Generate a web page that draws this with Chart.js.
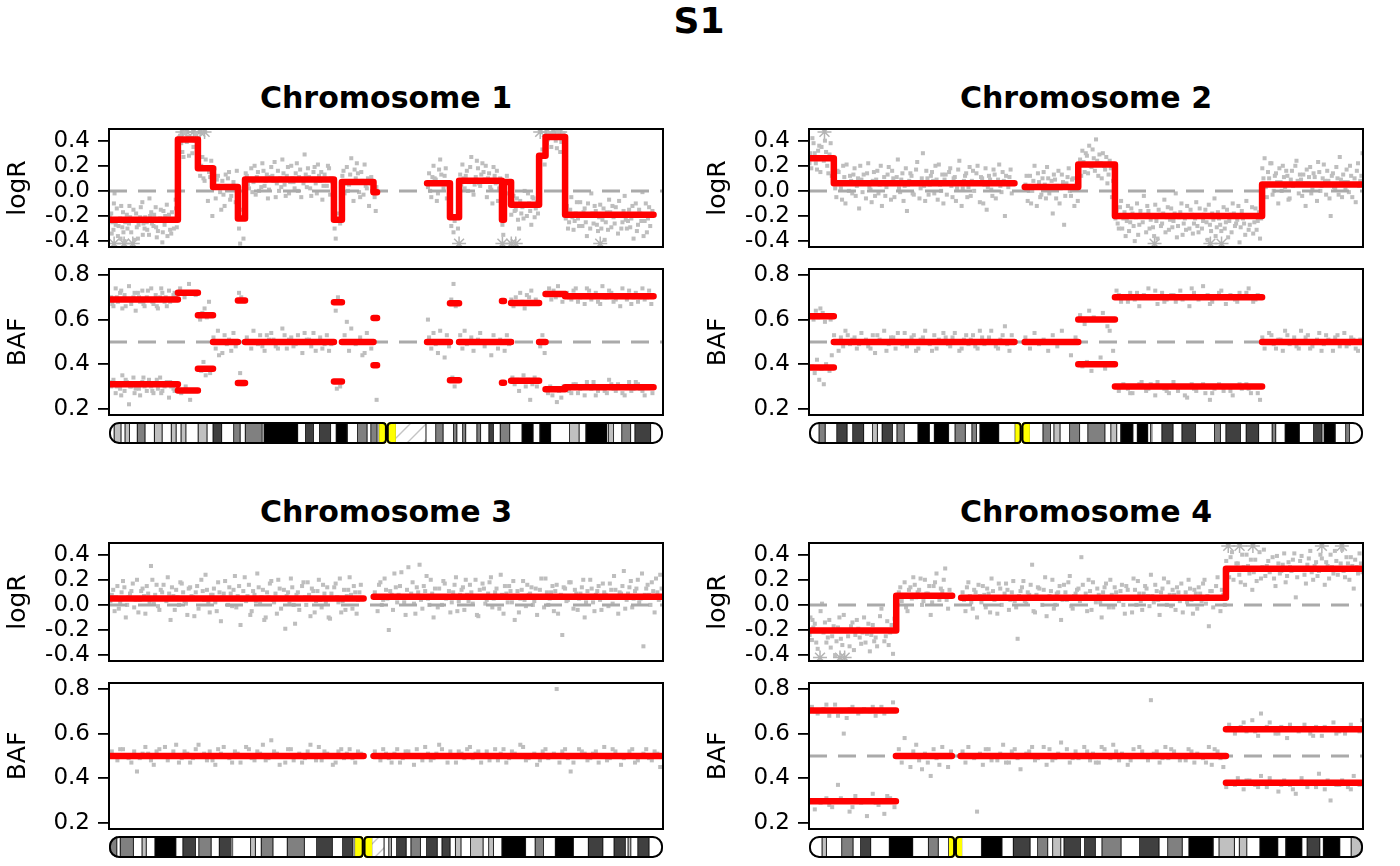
<!DOCTYPE html>
<html><head><meta charset="utf-8">
<script src="https://cdn.jsdelivr.net/npm/chart.js@4.4.1/dist/chart.umd.min.js"></script>
<style>
html,body{margin:0;padding:0;background:#fff;}
body{width:1400px;height:866px;position:relative;overflow:hidden;font-family:'DejaVu Sans';}
.t{position:absolute;font-weight:bold;white-space:nowrap;line-height:1;transform:translateX(-50%);color:#000;}
canvas{position:absolute;}
</style></head><body>
<div class="t" style="left:699px;top:2.5px;font-size:36px;">S1</div>
<div class="t" style="left:386px;top:82.6px;font-size:30px;">Chromosome 1</div>
<div class="t" style="left:1086px;top:82.6px;font-size:30px;">Chromosome 2</div>
<div class="t" style="left:386px;top:496.6px;font-size:30px;">Chromosome 3</div>
<div class="t" style="left:1086px;top:496.6px;font-size:30px;">Chromosome 4</div>
<script>
// ---------------- DATA ----------------
const chromosomes = ['Chromosome 1','Chromosome 2','Chromosome 3','Chromosome 4'];
const chromLengths = [249.25, 243.2, 198.0, 191.2]; // Mb
const logRTicks = [-0.4,-0.2,0.0,0.2,0.4];
const bafTicks = [0.2,0.4,0.6,0.8];
const logRRange = [-0.447, 0.493];
const bafRange = [0.172, 0.827];
const logROutClamp = [-0.42, 0.47];

// logR segments [start Mb, end Mb, value]
const chr1LogRSeg = [[0.8,31.0,-0.23],[31.0,40.0,0.41],[40.0,46.8,0.18],[46.8,58.0,0.03],[58.0,61.2,-0.22],[61.2,101.2,0.09],[101.2,104.8,-0.23],[104.8,119.0,0.07],[119.0,120.6,-0.01],
  [143.1,153.4,0.06],[153.4,157.5,-0.21],[157.5,176.8,0.08],[176.8,177.7,-0.23],[177.7,180.9,0.07],[180.9,193.5,-0.11],[193.5,196.4,0.28],[196.4,205.2,0.43],[205.2,245.0,-0.19]];
const chr2LogRSeg = [[0.1,10.9,0.26],[10.9,90.2,0.06],[94.7,118.2,0.03],[118.2,134.3,0.21],[134.3,198.9,-0.20],[198.9,243.2,0.05]];
const chr3LogRSeg = [[0.1,91.0,0.05],[94.6,198.0,0.065]];
const chr4LogRSeg = [[0.1,30.1,-0.205],[30.1,49.4,0.072],[52.5,143.9,0.057],[143.9,191.2,0.287]];

// BAF segments [start, end, upper, lower]
const chr1BafSeg = [[0.8,31.0,0.69,0.31],[31.0,40.0,0.72,0.282],[40.0,46.8,0.62,0.38],[46.8,58.0,0.5],[58.0,61.2,0.686,0.316],[61.2,101.2,0.5],[101.2,104.8,0.678,0.322],[104.8,119.0,0.5],[119.0,120.6,0.607,0.395],
  [143.1,153.4,0.5],[153.4,157.5,0.673,0.328],[157.5,176.8,0.5],[176.8,177.7,0.683,0.317],[177.7,180.9,0.5],[180.9,193.5,0.675,0.326],[193.5,196.4,0.5],[196.4,205.2,0.715,0.287],[205.2,245.0,0.705,0.297]];
const chr2BafSeg = [[0.1,10.9,0.615,0.385],[10.9,90.2,0.5],[94.7,118.2,0.5],[118.2,134.3,0.60,0.40],[134.3,198.9,0.70,0.30],[198.9,243.2,0.5]];
const chr3BafSeg = [[0.1,91.0,0.5],[94.6,198.0,0.5]];
const chr4BafSeg = [[0.1,30.0,0.704,0.296],[30.0,49.3,0.5],[52.3,143.9,0.5],[143.9,191.2,0.619,0.379]];

// gray probe values [x Mb, y, x, y, ...]
const chr1LogRPts = [1,-0.18,1.5,-0.25,2,-0.31,2.5,-0.02,3,-0.27,3.5,-0.14,4,-0.36,5,-0.22,5.5,-0.12,6,-0.29,6.5,-0.33,7,-0.40,8,-0.19,9,-0.26,9.5,-0.21,10,-0.33,11,-0.15,12,-0.24,12.5,-0.29,13,-0.38,14,-0.21,15,-0.09,15.5,-0.26,16,-0.30,17,-0.25,18,-0.35,18.5,-0.20,19,-0.17,20,-0.28,21,-0.13,21.5,-0.37,22,-0.32,23,-0.22,24,-0.41,24.5,-0.16,25,-0.27,26,-0.11,27,-0.19,27.5,-0.31,28,-0.34,29,-0.24,29.5,-0.23,30,-0.07,30.5,-0.29,
 31.5,0.36,32,0.44,33,0.31,34,0.46,35,0.39,36,0.28,37,0.42,38,0.35,39,0.45,39.5,0.33,
 40.5,0.22,41,0.12,42,0.27,43,0.08,44,0.19,44.5,-0.08,45,0.15,46,0.24,46.5,-0.2,
 47,0.05,47.5,0.18,48,-0.06,49,0.12,50,-0.01,50.5,-0.15,51,0.08,52,-0.12,53,0.02,53.5,0.1,54,0.15,55,-0.04,55.5,0.01,56,0.07,57,-0.09,
 58.5,-0.3,59,-0.42,60,-0.15,60.5,-0.38,
 62,0.12,62.5,0.05,63,0.02,64,0.18,65,0.07,66,-0.03,67,0.15,67.5,0.0,68,0.09,69,0.22,70,0.04,71,0.13,72,0.01,72.5,0.11,73,0.19,74,0.08,75,-0.05,76,0.16,77,0.1,77.5,0.03,78,0.25,79,0.05,80,0.12,81,-0.02,82,0.2,82.5,0.1,83,0.07,84,0.14,85,0.0,86,0.17,87,0.09,87.5,0.06,88,0.29,89,0.03,90,0.11,91,-0.04,92,0.15,92.5,0.19,93,0.06,94,0.21,95,0.08,96,-0.07,97,0.13,97.5,0.09,98,0.04,99,0.18,100,0.1,
 101.5,-0.3,102,-0.38,103,-0.18,104,-0.26,
 105,0.12,106,-0.02,106.5,0.06,107,0.19,108,0.05,109,0.26,110,-0.08,110.5,0.17,111,0.1,112,0.14,113,-0.05,114,0.08,114.5,-0.03,115,0.21,116,0.02,117,-0.12,118,0.11,118.5,0.0,119.5,-0.05,120,-0.16,120.3,0.03,
 143.5,0.03,144,0.14,145,-0.05,145.5,0.11,146,0.2,147,0.09,148,-0.02,148.5,0.17,149,0.25,150,0.06,151,0.12,152,-0.06,153,0.01,
 153.7,-0.15,154,-0.28,155,-0.33,155.5,-0.24,156,-0.21,157,-0.3,
 158,0.13,159,0.21,160,0.02,160.5,0.12,161,0.16,162,0.07,163,0.27,164,-0.03,164.5,0.05,165,0.11,166,0.18,167,0.04,168,0.22,168.5,0.15,169,0.09,170,-0.05,171,0.14,172,0.01,172.5,-0.1,173,0.19,174,0.06,175,-0.08,176,0.1,
 177,-0.27,177.4,-0.35,178,0.03,179,0.12,180,-0.02,
 181,-0.19,182,-0.04,183,-0.15,184,-0.23,184.5,-0.3,185,-0.08,186,-0.13,187,0.0,188,-0.2,188.5,-0.02,189,-0.1,190,-0.27,191,-0.06,192,-0.14,193,-0.18,
 194,0.25,195,0.33,196,0.21,197,0.38,198,0.46,199,0.35,200,0.44,201,0.4,202,0.47,203,0.31,204,0.42,205,0.37,
 206,-0.12,207,-0.25,208,-0.05,208.5,-0.21,209,-0.31,210,-0.18,211,-0.22,212,-0.09,213,-0.28,213.5,-0.17,214,-0.14,215,-0.36,216,-0.2,217,-0.02,218,-0.26,219,-0.16,219.5,-0.27,220,-0.32,221,-0.11,222,-0.23,223,-0.39,224,-0.17,225,-0.07,226,-0.29,226.5,-0.12,227,-0.21,228,-0.13,229,-0.34,230,-0.19,231,-0.25,232,-0.04,233,-0.3,233.5,-0.24,234,-0.15,235,-0.22,236,-0.38,237,-0.1,238,-0.27,239,-0.18,240,-0.01,240.5,-0.36,241,-0.24,242,-0.33,243,-0.13,244,-0.2,
 0.3,-0.2,1.2,-0.34,2.2,-0.1,3.2,-0.23,4.3,-0.28,5.2,-0.38,6.3,-0.17,7.3,-0.25,8.3,-0.3,9.2,-0.12,10.3,-0.24,11.3,-0.39,12.2,-0.18,13.3,-0.27,14.3,-0.13,15.2,-0.35,16.3,-0.21,17.2,-0.31,18.2,-0.06,19.3,-0.26,20.3,-0.19,21.2,-0.29,22.3,-0.24,23.3,-0.15,24.2,-0.33,25.3,-0.2,26.3,-0.36,27.2,-0.23,28.3,-0.17,29.2,-0.3,30.2,-0.14,
 32.5,0.38,33.5,0.27,35.5,0.43,37.5,0.3,38.5,0.4,41.5,0.2,42.5,0.1,43.5,0.25,45.5,0.11,
 48.5,0.09,51.5,-0.03,52.5,0.13,54.5,-0.07,56.5,0.04,57.5,0.16,
 61.5,0.14,63.5,0.09,64.5,-0.01,65.5,0.2,66.5,0.11,68.5,0.03,69.5,0.16,70.5,0.08,71.5,-0.06,73.5,0.12,74.5,0.23,75.5,0.06,76.5,0.0,78.5,0.14,79.5,-0.04,80.5,0.19,81.5,0.07,83.5,0.02,84.5,0.22,85.5,0.11,86.5,-0.05,88.5,0.13,89.5,0.18,90.5,0.02,91.5,0.09,93.5,-0.02,94.5,0.12,95.5,0.15,96.5,0.04,98.5,0.2,99.5,-0.03,100.5,0.07,
 105.5,0.16,107.5,0.0,108.5,0.13,109.5,0.07,111.5,0.22,112.5,-0.01,113.5,0.15,115.5,0.04,116.5,0.1,117.5,0.06,
 144.5,0.0,146.5,0.1,147.5,-0.08,149.5,0.13,150.5,0.02,151.5,0.18,152.5,0.07,
 158.5,0.05,159.5,0.1,161.5,0.0,162.5,0.19,163.5,0.08,165.5,0.24,166.5,0.06,167.5,0.13,169.5,0.2,170.5,0.1,171.5,0.03,173.5,0.12,174.5,0.16,175.5,0.02,
 181.5,-0.1,182.5,-0.16,183.5,-0.06,185.5,-0.18,186.5,-0.22,187.5,-0.12,189.5,-0.16,190.5,-0.05,191.5,-0.21,192.5,-0.09,
 197.5,0.41,199.5,0.45,201.5,0.34,203.5,0.39,204.5,0.46,
 205.5,-0.22,206.5,-0.3,207.5,-0.15,209.5,-0.24,210.5,-0.09,211.5,-0.28,212.5,-0.19,214.5,-0.25,215.5,-0.1,216.5,-0.3,217.5,-0.18,218.5,-0.12,220.5,-0.21,221.5,-0.3,222.5,-0.14,223.5,-0.25,224.5,-0.31,225.5,-0.17,227.5,-0.26,228.5,-0.2,229.5,-0.08,230.5,-0.3,231.5,-0.16,232.5,-0.23,234.5,-0.29,235.5,-0.12,236.5,-0.2,237.5,-0.32,238.5,-0.15,239.5,-0.24,241.5,-0.1,242.5,-0.22,243.5,-0.28,244.5,-0.16];
const chr1LogROut = [2.3,-0.6,6.8,-0.6,10.7,-0.6,33,0.6,35,0.6,38,0.6,41,0.6,43,0.6,157.5,-0.6,177,-0.6,181,-0.6,183,-0.6,194,0.6,197,0.6,200,0.6,203,0.6,221,-0.6];

const chr1BafPts = [1,0.7,2,0.66,3,0.74,4,0.68,5,0.72,6,0.65,7,0.71,8,0.69,9,0.75,10,0.67,11,0.7,12,0.64,13,0.72,14,0.68,15,0.73,16,0.66,17,0.7,18,0.69,19,0.74,20,0.67,21,0.71,22,0.65,23,0.7,24,0.72,25,0.68,26,0.66,27,0.73,28,0.69,29,0.71,30,0.7,
 1,0.3,2,0.33,3,0.27,4,0.31,5,0.29,6,0.35,7,0.28,8,0.32,9,0.22,10,0.3,11,0.34,12,0.29,13,0.31,14,0.26,15,0.32,16,0.3,17,0.28,18,0.33,19,0.3,20,0.27,21,0.31,22,0.29,23,0.34,24,0.28,25,0.3,26,0.32,27,0.25,28,0.3,29,0.29,30,0.31,
 1.5,0.67,3.5,0.7,5.5,0.73,7.5,0.66,9.5,0.69,11.5,0.72,13.5,0.7,15.5,0.67,17.5,0.73,19.5,0.68,21.5,0.66,23.5,0.74,25.5,0.7,27.5,0.68,29.5,0.72,
 1.5,0.32,3.5,0.3,5.5,0.26,7.5,0.33,9.5,0.3,11.5,0.27,13.5,0.29,15.5,0.34,17.5,0.31,19.5,0.28,21.5,0.33,23.5,0.27,25.5,0.31,27.5,0.32,29.5,0.28,
 32,0.74,34,0.7,36,0.76,38,0.72,39,0.71,32.5,0.27,34.5,0.3,36.5,0.24,38.5,0.28,
 41,0.6,42,0.63,43,0.65,44,0.61,45,0.68,41.5,0.37,42.5,0.41,43.5,0.35,44.5,0.38,45.5,0.36,
 47,0.52,48,0.47,49,0.55,49.5,0.44,50,0.5,51,0.45,52,0.53,53,0.49,53.5,0.5,54,0.51,55,0.46,56,0.54,57,0.48,
 58.5,0.72,59.5,0.7,59,0.36,60,0.31,
 62,0.52,63,0.5,64,0.47,65,0.55,66,0.5,67,0.49,68,0.53,69,0.48,70,0.46,71,0.53,72,0.51,73,0.54,74,0.51,75,0.48,76,0.47,77,0.5,78,0.56,79,0.53,80,0.47,81,0.51,82,0.52,83,0.48,84,0.49,85,0.53,86,0.5,87,0.45,88,0.54,89,0.51,90,0.51,91,0.48,92,0.54,93,0.46,94,0.5,95,0.52,96,0.47,97,0.49,98,0.53,99,0.46,100,0.49,
 102,0.64,103,0.7,102.5,0.29,104,0.3,
 106,0.53,107,0.59,108,0.46,109,0.56,111,0.49,113,0.52,114,0.44,115,0.45,116,0.54,118,0.47,
 119.5,0.61,120,0.4,120.4,0.24,
 143.5,0.6,144,0.52,145,0.47,146,0.54,147,0.49,148,0.45,149,0.55,150,0.5,151,0.43,152,0.53,153,0.48,
 154,0.69,155,0.76,156,0.66,154.5,0.34,155.5,0.3,157,0.33,
 158,0.53,159,0.47,160,0.55,161,0.49,163,0.52,164,0.46,166,0.51,167,0.54,169,0.48,170,0.5,172,0.44,173,0.53,175,0.47,176,0.51,
 177,0.68,177.3,0.32,178,0.46,179,0.53,180,0.49,
 181,0.69,182,0.66,183,0.7,184,0.67,185,0.72,186,0.68,187,0.65,188,0.71,189,0.7,190,0.73,191,0.67,192,0.69,
 181.5,0.34,182.5,0.31,183.5,0.33,184.5,0.28,185.5,0.32,186.5,0.35,187.5,0.3,188.5,0.33,189.5,0.24,190.5,0.31,191.5,0.34,192.5,0.3,
 194,0.48,195,0.53,196,0.45,
 197,0.72,198,0.74,199,0.69,200,0.73,201,0.7,202,0.75,203,0.71,204,0.68,197.5,0.27,198.5,0.3,199.5,0.26,200.5,0.29,201.5,0.23,202.5,0.28,203.5,0.25,204.5,0.3,
 206,0.72,207,0.7,208,0.69,209,0.73,210,0.74,211,0.68,212,0.7,213,0.71,214,0.67,215,0.74,216,0.73,217,0.69,218,0.71,219,0.72,220,0.68,221,0.67,222,0.75,223,0.7,224,0.7,225,0.73,226,0.72,227,0.68,228,0.69,229,0.71,230,0.66,231,0.74,232,0.71,233,0.69,234,0.73,235,0.67,236,0.7,237,0.72,238,0.68,239,0.7,240,0.74,241,0.69,242,0.7,243,0.73,244,0.67,
 206,0.3,207,0.28,208,0.27,209,0.31,210,0.31,211,0.27,212,0.29,213,0.3,214,0.26,215,0.32,216,0.3,217,0.29,218,0.32,219,0.26,220,0.28,221,0.3,222,0.3,223,0.28,224,0.27,225,0.33,226,0.31,227,0.29,228,0.28,229,0.31,230,0.3,231,0.27,232,0.26,233,0.3,234,0.32,235,0.28,236,0.29,237,0.32,238,0.31,239,0.29,240,0.28,241,0.26,242,0.3,243,0.3,244.5,0.27];

const chr2LogRPts = [0.5,0.3,1,0.18,1.5,0.42,2,0.38,3,0.22,4,0.32,5,0.15,5.5,0.35,6,0.27,7,0.4,8,0.2,9,0.29,10,0.12,
 0.2,0.22,2.5,0.3,3.5,0.17,4.5,0.36,6.5,0.24,7.5,0.31,8.5,0.14,9.5,0.38,
 11,0.1,12,-0.05,13,0.15,14,0.02,15,0.2,16,-0.1,17,0.07,18,0.12,19,-0.02,20,0.18,21,0.04,22,-0.14,23,0.09,24,0.13,25,-0.06,26,0.22,27,0.01,28,0.08,29,-0.04,30,0.16,31,0.05,32,-0.12,33,0.11,34,0.03,35,0.19,36,-0.07,37,0.1,38,0.06,39,0.25,40,-0.01,41,0.14,42,0.04,43,-0.16,44,0.08,45,0.12,46,-0.03,47,0.17,48,0.07,49,0.02,50,0.3,51,-0.08,52,0.1,53,0.05,54,0.15,55,-0.02,56,0.09,57,0.21,58,0.0,59,-0.1,60,0.13,61,0.06,62,0.18,63,-0.05,64,0.11,65,0.02,66,0.24,67,-0.12,68,0.08,69,0.14,70,0.03,71,-0.04,72,0.16,73,0.07,74,0.2,75,-0.09,76,0.1,77,0.05,78,-0.15,79,0.12,80,0.01,81,0.17,82,-0.06,83,0.09,84,0.04,85,0.15,86,-0.2,87,0.06,88,0.11,89,-0.02,
 11.5,0.02,12.5,0.16,13.5,0.06,14.5,-0.07,15.5,0.11,16.5,0.21,17.5,0.0,18.5,0.08,19.5,0.13,20.5,-0.04,21.5,0.1,22.5,0.2,23.5,-0.01,24.5,0.06,25.5,0.14,26.5,0.03,27.5,-0.09,28.5,0.15,29.5,0.09,30.5,-0.02,31.5,0.2,32.5,0.07,33.5,-0.04,34.5,0.13,35.5,0.06,36.5,0.16,37.5,-0.05,38.5,0.11,39.5,0.02,40.5,0.09,41.5,-0.08,42.5,0.18,43.5,0.05,44.5,0.14,45.5,-0.02,46.5,0.07,47.5,0.23,48.5,-0.06,49.5,0.1,50.5,0.04,51.5,0.16,52.5,-0.03,53.5,0.12,54.5,0.08,55.5,0.2,56.5,-0.07,57.5,0.05,58.5,0.13,59.5,0.09,60.5,-0.03,61.5,0.15,62.5,0.04,63.5,0.1,64.5,-0.08,65.5,0.17,66.5,0.07,67.5,0.02,68.5,0.12,69.5,-0.05,70.5,0.19,71.5,0.08,72.5,0.0,73.5,0.14,74.5,0.06,75.5,0.11,76.5,-0.1,77.5,0.18,78.5,0.03,79.5,0.09,80.5,-0.04,81.5,0.13,82.5,0.07,83.5,0.21,84.5,-0.01,85.5,0.08,86.5,0.12,87.5,0.03,88.5,0.17,
 95,0.05,96,-0.08,97,0.12,98,0.0,99,0.2,100,-0.12,101,0.07,102,-0.03,103,0.15,104,-0.06,105,0.1,106,0.02,107,-0.18,108,0.09,109,0.04,110,-0.1,111,0.13,112,-0.27,113,0.06,114,0.18,115,-0.04,116,0.1,117,0.01,118,-0.08,
 95.5,0.12,96.5,0.0,97.5,-0.1,98.5,0.08,99.5,0.03,100.5,0.14,101.5,-0.05,102.5,0.1,103.5,0.05,104.5,0.19,105.5,-0.02,106.5,0.08,107.5,0.13,108.5,-0.06,109.5,0.16,110.5,0.02,111.5,0.07,112.5,-0.04,113.5,0.11,114.5,0.0,115.5,0.09,116.5,-0.12,117.5,0.06,
 119,0.25,120,0.32,121,0.15,122,0.28,123,0.36,124,0.19,125,0.26,126,0.41,127,0.12,128,0.22,129,0.3,130,0.17,131,0.06,132,0.24,133,-0.05,134,0.1,
 118.5,0.18,119.5,0.12,120.5,0.23,121.5,0.3,122.5,0.14,123.5,0.2,124.5,0.33,125.5,0.16,126.5,0.24,127.5,0.29,128.5,0.1,129.5,0.2,130.5,0.27,131.5,0.13,132.5,0.18,133.5,0.08,
 135,-0.15,136,-0.3,137,-0.08,138,-0.22,139,-0.36,140,-0.12,141,-0.25,142,-0.18,143,-0.4,144,-0.1,145,-0.27,146,-0.2,147,-0.04,148,-0.33,149,-0.16,150,-0.23,151,-0.29,152,-0.11,153,-0.38,154,-0.19,155,-0.26,156,-0.07,157,-0.21,158,-0.31,159,-0.14,160,-0.24,161,-0.02,162,-0.28,163,-0.17,164,-0.35,165,-0.22,166,-0.12,167,-0.3,168,-0.19,169,-0.26,170,-0.09,171,-0.33,172,-0.2,173,-0.24,174,-0.15,175,-0.39,176,-0.27,177,-0.18,178,-0.06,179,-0.29,180,-0.22,181,-0.32,182,-0.13,183,-0.25,184,-0.37,185,-0.19,186,-0.1,187,-0.28,188,-0.23,189,-0.41,190,-0.16,191,-0.26,192,-0.08,193,-0.31,194,-0.2,195,-0.34,196,-0.14,197,-0.24,198,-0.38,
 134.5,-0.22,135.5,-0.26,136.5,-0.13,137.5,-0.3,138.5,-0.17,139.5,-0.24,140.5,-0.32,141.5,-0.14,142.5,-0.28,143.5,-0.21,144.5,-0.35,145.5,-0.16,146.5,-0.25,147.5,-0.19,148.5,-0.12,149.5,-0.3,150.5,-0.2,151.5,-0.36,152.5,-0.24,153.5,-0.15,154.5,-0.28,155.5,-0.18,156.5,-0.33,157.5,-0.13,158.5,-0.23,159.5,-0.29,160.5,-0.18,161.5,-0.37,162.5,-0.21,163.5,-0.1,164.5,-0.26,165.5,-0.31,166.5,-0.2,167.5,-0.15,168.5,-0.34,169.5,-0.22,170.5,-0.28,171.5,-0.14,172.5,-0.3,173.5,-0.19,174.5,-0.25,175.5,-0.11,176.5,-0.32,177.5,-0.23,178.5,-0.36,179.5,-0.17,180.5,-0.27,181.5,-0.2,182.5,-0.3,183.5,-0.15,184.5,-0.24,185.5,-0.33,186.5,-0.18,187.5,-0.26,188.5,-0.12,189.5,-0.29,190.5,-0.22,191.5,-0.35,192.5,-0.2,193.5,-0.27,194.5,-0.13,195.5,-0.25,196.5,-0.31,197.5,-0.17,198.5,-0.22,
 199,0.18,200,0.26,201,-0.05,202,0.1,203,0.22,204,0.0,205,0.14,206,-0.1,207,0.07,208,0.2,209,0.03,210,0.12,211,-0.06,212,0.16,213,0.05,214,0.24,215,-0.02,216,0.09,217,0.13,218,-0.12,219,0.06,220,0.19,221,0.01,222,0.11,223,-0.08,224,0.15,225,0.04,226,0.21,227,-0.03,228,0.08,229,-0.2,230,0.14,231,0.02,232,0.1,233,0.27,234,-0.05,235,0.07,236,0.17,237,-0.01,238,0.12,239,0.05,240,-0.09,241,0.22,242,0.08,243,0.3,
 199.5,0.1,200.5,0.03,201.5,0.15,202.5,0.22,203.5,-0.03,204.5,0.12,205.5,0.07,206.5,0.18,207.5,0.0,208.5,0.11,209.5,0.16,210.5,-0.07,211.5,0.09,212.5,0.04,213.5,0.2,214.5,0.08,215.5,0.13,216.5,-0.04,217.5,0.06,218.5,0.17,219.5,0.11,220.5,-0.02,221.5,0.14,222.5,0.05,223.5,0.23,224.5,0.0,225.5,0.1,226.5,0.08,227.5,0.16,228.5,-0.06,229.5,0.12,230.5,0.03,231.5,0.19,232.5,-0.03,233.5,0.09,234.5,0.13,235.5,0.01,236.5,0.07,237.5,0.2,238.5,-0.05,239.5,0.1,240.5,0.16,241.5,0.04,242.5,0.12];
const chr2LogROut = [6.8,0.6,151.7,-0.6,176.2,-0.6,181.1,-0.6];

const chr2BafPts = [1,0.62,2,0.6,3,0.64,4,0.61,5,0.65,6,0.63,7,0.59,8,0.62,9.5,0.6,1.5,0.39,2.5,0.36,3.5,0.42,4.5,0.33,5.5,0.38,6.5,0.31,7.5,0.4,9,0.37,10,0.44,
 11,0.53,12,0.5,13,0.46,14,0.52,15,0.48,16,0.55,17,0.53,18,0.49,19,0.51,20,0.52,21,0.47,22,0.49,23,0.54,24,0.5,25,0.51,26,0.48,27,0.47,28,0.53,29,0.45,30,0.53,31,0.51,32,0.5,33,0.55,34,0.46,35,0.49,36,0.52,37,0.52,38,0.47,39,0.54,40,0.5,41,0.49,42,0.54,43,0.48,44,0.5,45,0.52,46,0.53,47,0.46,48,0.47,49,0.51,50,0.52,51,0.55,52,0.5,53,0.49,54,0.46,55,0.53,56,0.47,57,0.51,58,0.5,59,0.54,60,0.52,61,0.49,62,0.48,63,0.52,64,0.54,65,0.5,66,0.46,67,0.47,68,0.51,69,0.53,70,0.49,71,0.51,72,0.53,73,0.48,74,0.47,75,0.55,76,0.52,77,0.49,78,0.5,79,0.52,80,0.55,81,0.5,82,0.48,83,0.47,84,0.51,85,0.53,86,0.57,87,0.49,88,0.46,89,0.53,
 95,0.52,97,0.47,99,0.54,101,0.49,103,0.51,105,0.46,107,0.53,109,0.48,111,0.55,113,0.5,115,0.44,117,0.52,
 119,0.62,121,0.58,123,0.64,125,0.61,127,0.6,129,0.63,131,0.57,133,0.6,120,0.39,122,0.41,124,0.37,126,0.4,128,0.43,130,0.38,132,0.55,133.5,0.46,
 135,0.73,136,0.71,137,0.68,139,0.7,140,0.68,141,0.72,143,0.69,144,0.72,145,0.66,147,0.71,148,0.7,149,0.74,151,0.7,152,0.73,153,0.67,155,0.72,156,0.68,157,0.69,159,0.71,160,0.71,161,0.68,163,0.73,164,0.69,165,0.7,167,0.66,168,0.74,169,0.72,171,0.69,172,0.7,173,0.75,175,0.71,176,0.67,177,0.68,179,0.7,180,0.72,181,0.73,183,0.67,184,0.7,185,0.71,187,0.69,188,0.68,189,0.72,191,0.7,192,0.72,193,0.74,195,0.68,196,0.69,197,0.71,
 136,0.28,137,0.3,138,0.31,140,0.29,141,0.27,142,0.27,144,0.3,145,0.31,146,0.32,148,0.28,149,0.29,150,0.31,152,0.26,153,0.32,154,0.3,156,0.29,157,0.28,158,0.27,160,0.32,161,0.3,162,0.28,164,0.3,165,0.26,166,0.25,168,0.31,169,0.29,170,0.28,172,0.3,173,0.31,174,0.27,176,0.24,177,0.27,178,0.29,180,0.31,181,0.3,182,0.28,184,0.3,185,0.28,186,0.26,188,0.3,189,0.31,190,0.29,192,0.31,193,0.29,194,0.27,196,0.3,197,0.27,198,0.24,
 199,0.52,200,0.47,201,0.5,202,0.54,203,0.53,204,0.49,205,0.47,206,0.51,207,0.51,208,0.46,209,0.55,210,0.53,211,0.49,212,0.5,213,0.52,214,0.48,215,0.47,216,0.55,217,0.5,218,0.52,219,0.53,220,0.47,221,0.48,222,0.5,223,0.51,224,0.54,225,0.46,226,0.49,227,0.53,228,0.51,229,0.5,230,0.46,231,0.52,232,0.53,233,0.48,234,0.5,235,0.54,236,0.48,237,0.49,238,0.52,239,0.51,240,0.47,241,0.46,242,0.51,243,0.5];

const chr3LogRPts = [1,0.08,2,-0.05,3,0.15,4,0.02,5,0.19,6,-0.1,7,0.06,8,0.11,9,-0.02,10,0.2,11,0.04,12,0.13,13,-0.07,14,0.09,15,0.31,16,0.01,17,0.16,18,-0.04,19,0.1,20,0.05,21,0.22,22,-0.12,23,0.07,24,0.12,25,0.0,26,0.17,27,0.03,28,-0.08,29,0.14,30,0.06,31,0.1,32,-0.03,33,0.2,34,0.04,35,0.12,36,-0.06,37,0.08,38,0.02,39,0.18,40,-0.13,41,0.09,42,0.05,43,0.14,44,-0.01,45,0.23,46,0.07,47,-0.16,48,0.11,49,0.03,50,0.16,51,-0.05,52,0.08,53,0.25,54,0.01,55,0.12,56,-0.1,57,0.06,58,0.19,59,0.02,60,-0.07,61,0.13,62,0.05,63,-0.19,64,0.1,65,0.21,66,0.0,67,0.08,68,-0.04,69,0.15,70,0.06,71,0.18,72,-0.09,73,0.11,74,0.03,75,0.2,76,-0.02,77,0.09,78,0.14,79,-0.11,80,0.05,81,0.17,82,0.02,83,-0.06,84,0.12,85,0.07,86,0.22,87,-0.03,88,0.1,89,0.04,90,0.16,
 0.5,0.03,1.5,0.12,2.5,0.06,3.5,-0.03,4.5,0.1,5.5,0.14,6.5,0.0,7.5,0.09,8.5,0.17,9.5,0.04,10.5,-0.06,11.5,0.11,12.5,0.07,13.5,0.15,14.5,0.02,15.5,0.2,16.5,0.08,17.5,-0.01,18.5,0.12,19.5,0.16,20.5,0.03,21.5,0.09,22.5,0.14,23.5,-0.04,24.5,0.06,25.5,0.18,26.5,0.1,27.5,0.01,28.5,0.13,29.5,0.07,30.5,-0.09,31.5,0.15,32.5,0.05,33.5,0.11,34.5,0.24,35.5,0.02,36.5,0.08,37.5,0.13,38.5,-0.05,39.5,0.1,40.5,0.06,41.5,0.19,42.5,0.0,43.5,0.09,44.5,0.12,45.5,-0.02,46.5,0.15,47.5,0.04,48.5,0.22,49.5,0.07,50.5,-0.08,51.5,0.11,52.5,0.03,53.5,0.14,54.5,0.06,55.5,-0.12,56.5,0.1,57.5,0.17,58.5,0.04,59.5,0.09,60.5,0.2,61.5,-0.03,62.5,0.12,63.5,0.07,64.5,0.01,65.5,0.14,66.5,-0.15,67.5,0.1,68.5,0.05,69.5,0.18,70.5,0.0,71.5,0.08,72.5,0.13,73.5,-0.06,74.5,0.11,75.5,0.04,76.5,0.16,77.5,0.02,78.5,-0.1,79.5,0.09,80.5,0.14,81.5,0.06,82.5,0.21,83.5,0.03,84.5,-0.04,85.5,0.12,86.5,0.08,87.5,0.15,88.5,-0.07,89.5,0.1,90.5,0.05,
 95,0.1,96,-0.05,97,0.18,98,0.04,99,0.12,100,-0.2,101,0.08,102,0.25,103,0.02,104,0.15,105,0.06,106,-0.08,107,0.3,108,0.09,109,0.01,110,0.14,111,0.32,112,-0.03,113,0.11,114,0.05,115,0.2,116,-0.1,117,0.07,118,0.13,119,0.0,120,0.17,121,0.06,122,-0.06,123,0.1,124,0.22,125,0.03,126,0.12,127,-0.04,128,0.08,129,0.16,130,0.01,131,0.2,132,-0.09,133,0.07,134,0.13,135,0.04,136,0.18,137,-0.02,138,0.1,139,0.06,140,0.24,141,-0.07,142,0.09,143,0.15,144,0.02,145,-0.12,146,0.11,147,0.05,148,0.19,149,-0.01,150,0.08,151,0.14,152,0.03,153,-0.08,154,0.12,155,0.06,156,0.21,157,0.0,158,0.1,159,-0.05,160,0.16,161,0.07,162,-0.24,163,0.13,164,0.04,165,0.18,166,-0.03,167,0.09,168,0.05,169,0.14,170,-0.1,171,0.11,172,0.2,173,0.02,174,0.08,175,0.15,176,-0.04,177,0.1,178,0.06,179,0.17,180,0.01,181,0.12,182,-0.07,183,0.09,184,0.27,185,0.04,186,0.14,187,-0.02,188,0.11,189,0.2,190,0.05,191,-0.33,192,0.13,193,0.08,194,0.18,195,-0.06,196,0.1,197,0.24,
 95.5,0.07,96.5,0.16,97.5,0.0,98.5,0.21,99.5,0.05,100.5,0.11,101.5,-0.04,102.5,0.14,103.5,0.08,104.5,0.26,105.5,0.02,106.5,0.12,107.5,0.06,108.5,0.18,109.5,-0.07,110.5,0.1,111.5,0.04,112.5,0.15,113.5,0.23,114.5,0.0,115.5,0.09,116.5,0.13,117.5,-0.02,118.5,0.07,119.5,0.19,120.5,0.05,121.5,0.11,122.5,0.02,123.5,0.16,124.5,-0.05,125.5,0.08,126.5,0.14,127.5,0.2,128.5,0.03,129.5,0.1,130.5,0.06,131.5,-0.08,132.5,0.12,133.5,0.17,134.5,0.01,135.5,0.09,136.5,0.22,137.5,0.05,138.5,0.13,139.5,-0.03,140.5,0.08,141.5,0.15,142.5,0.02,143.5,0.11,144.5,0.19,145.5,0.06,146.5,-0.06,147.5,0.12,148.5,0.04,149.5,0.16,150.5,0.09,151.5,0.0,152.5,0.13,153.5,0.07,154.5,0.21,155.5,-0.02,156.5,0.1,157.5,0.05,158.5,0.15,159.5,0.11,160.5,-0.07,161.5,0.08,162.5,0.14,163.5,0.03,164.5,0.18,165.5,0.06,166.5,0.12,167.5,-0.04,168.5,0.09,169.5,0.2,170.5,0.02,171.5,0.07,172.5,0.13,173.5,-0.05,174.5,0.11,175.5,0.04,176.5,0.17,177.5,0.08,178.5,-0.01,179.5,0.12,180.5,0.23,181.5,0.06,182.5,0.1,183.5,0.15,184.5,-0.03,185.5,0.09,186.5,0.19,187.5,0.05,188.5,0.13,189.5,0.02,190.5,0.25,191.5,0.08,192.5,0.16,193.5,0.0,194.5,0.11,195.5,0.21,196.5,0.04,197.5,0.13];
const chr3LogROut = [];

const chr3BafPts = [1,0.52,2,0.5,3,0.48,4,0.53,5,0.53,6,0.5,7,0.49,8,0.47,9,0.52,10,0.43,11,0.49,12,0.51,13,0.54,14,0.51,15,0.48,16,0.46,17,0.52,18,0.53,19,0.5,20,0.54,21,0.48,22,0.5,23,0.52,24,0.55,25,0.47,26,0.49,27,0.52,28,0.51,29,0.47,30,0.49,31,0.53,32,0.55,33,0.5,34,0.51,35,0.48,36,0.52,37,0.48,38,0.46,39,0.53,40,0.51,41,0.54,42,0.5,43,0.49,44,0.47,45,0.52,46,0.51,47,0.47,48,0.5,49,0.54,50,0.53,51,0.49,52,0.48,53,0.52,54,0.51,55,0.55,56,0.48,57,0.49,58,0.57,59,0.52,60,0.51,61,0.46,62,0.5,63,0.47,64,0.53,65,0.53,66,0.48,67,0.5,68,0.51,69,0.47,70,0.49,71,0.52,72,0.55,73,0.5,74,0.48,75,0.54,76,0.48,77,0.52,78,0.51,79,0.5,80,0.46,81,0.47,82,0.52,83,0.53,84,0.49,85,0.51,86,0.53,87,0.49,88,0.47,89,0.52,90,0.51,
 95,0.52,96,0.5,97,0.48,98,0.53,99,0.51,100,0.49,101,0.47,102,0.51,103,0.53,104,0.47,105,0.49,106,0.52,107,0.52,108,0.5,109,0.46,110,0.53,111,0.5,112,0.48,113,0.54,114,0.51,115,0.48,116,0.49,117,0.51,118,0.55,119,0.53,120,0.5,121,0.47,122,0.52,123,0.5,124,0.47,125,0.52,126,0.51,127,0.49,128,0.53,129,0.54,130,0.49,131,0.51,132,0.52,133,0.47,134,0.5,135,0.52,136,0.48,137,0.5,138,0.53,139,0.48,140,0.51,141,0.53,142,0.47,143,0.49,144,0.52,145,0.51,146,0.5,147,0.55,148,0.54,149,0.48,150,0.49,151,0.5,152,0.51,153,0.46,154,0.48,155,0.52,156,0.53,157,0.49,158,0.5,159,0.51,160,0.8,161,0.47,162,0.52,163,0.53,164,0.49,165,0.43,166,0.47,167,0.5,168,0.53,169,0.52,170,0.51,171,0.48,172,0.49,173,0.51,174,0.52,175,0.47,176,0.5,177,0.54,178,0.48,179,0.49,180,0.53,181,0.52,182,0.5,183,0.46,184,0.49,185,0.5,186,0.52,187,0.53,188,0.47,189,0.48,190,0.5,191,0.51,192,0.53,193,0.49,194,0.48,195,0.52,196,0.51,197,0.45];

const chr4LogRPts = [0.5,-0.1,1,-0.28,1.5,-0.18,2,-0.15,3,-0.35,4,-0.05,4.5,0.01,5,-0.22,6,-0.3,7,-0.12,7.5,-0.34,8,-0.25,9,-0.4,10,-0.18,11,-0.27,12,-0.08,12.5,-0.2,13,-0.21,14,-0.33,15,-0.14,16,-0.24,17,-0.19,17.5,-0.26,18,-0.31,19,-0.1,20,-0.23,21,-0.37,22,-0.16,22.5,-0.29,23,-0.26,24,-0.2,25,-0.03,26,-0.29,27,-0.13,28,-0.22,29,-0.39,29.5,-0.11,
 0.2,-0.24,1.2,-0.12,2.5,-0.3,3.5,-0.2,5.5,-0.14,6.5,-0.26,8.5,-0.17,9.5,-0.29,10.5,-0.1,11.5,-0.32,13.5,-0.25,14.5,-0.17,15.5,-0.36,16.5,-0.12,18.5,-0.22,19.5,-0.3,20.5,-0.15,21.5,-0.24,23.5,-0.33,24.5,-0.09,25.5,-0.2,26.5,-0.25,27.5,-0.32,28.5,-0.16,
 31,0.1,32,0.03,33,0.18,34,-0.05,35,0.14,36,0.22,37,0.06,38,0.12,39,0.0,40,0.2,41,0.09,42,-0.08,43,0.15,44,0.25,45,0.04,46,0.11,47,0.29,48,-0.03,49,0.08,
 30.5,0.0,31.5,0.14,32.5,0.07,33.5,-0.02,34.5,0.12,35.5,0.05,36.5,0.16,37.5,0.1,38.5,0.21,39.5,0.03,40.5,0.09,41.5,0.15,42.5,0.02,43.5,0.18,44.5,0.07,45.5,0.13,46.5,0.2,47.5,0.04,48.5,0.12,
 53,0.1,54,-0.05,55,0.18,56,0.02,57,0.12,58,-0.1,59,0.07,60,0.15,61,-0.02,62,0.09,63,0.21,64,0.04,65,-0.07,66,0.13,67,0.06,68,0.17,69,-0.04,70,0.1,71,0.03,72,-0.27,73,0.11,74,0.19,75,0.01,76,0.08,77,0.32,78,-0.06,79,0.14,80,0.05,81,0.12,82,-0.09,83,0.07,84,0.2,85,0.0,86,0.1,87,-0.12,88,0.16,89,0.04,90,0.23,91,-0.03,92,0.09,93,0.13,94,0.38,95,0.06,96,-0.05,97,0.11,98,0.18,99,0.02,100,0.08,101,-0.1,102,0.14,103,0.05,104,0.2,105,-0.02,106,0.1,107,0.03,108,0.16,109,-0.07,110,0.12,111,0.06,112,0.21,113,0.0,114,0.09,115,-0.04,116,0.15,117,0.07,118,0.24,119,0.02,120,0.11,121,-0.08,122,0.13,123,0.05,124,0.18,125,-0.01,126,0.08,127,0.14,128,0.03,129,-0.06,130,0.1,131,0.2,132,0.04,133,0.12,134,-0.03,135,0.09,136,0.17,137,0.01,138,-0.17,139,0.11,140,0.06,141,0.22,142,-0.05,143,0.08,
 53.5,0.04,54.5,0.14,55.5,0.07,56.5,-0.03,57.5,0.1,58.5,0.16,59.5,0.02,60.5,0.08,61.5,0.13,62.5,-0.06,63.5,0.11,64.5,0.05,65.5,0.17,66.5,0.0,67.5,0.09,68.5,0.12,69.5,0.04,70.5,0.19,71.5,-0.02,72.5,0.07,73.5,0.14,74.5,0.03,75.5,0.1,76.5,0.16,77.5,-0.05,78.5,0.08,79.5,0.13,80.5,0.0,81.5,0.22,82.5,0.06,83.5,0.11,84.5,-0.03,85.5,0.09,86.5,0.15,87.5,0.04,88.5,0.1,89.5,0.18,90.5,-0.01,91.5,0.07,92.5,0.12,93.5,0.03,94.5,0.16,95.5,0.09,96.5,0.2,97.5,-0.04,98.5,0.06,99.5,0.13,100.5,0.02,101.5,0.1,102.5,0.17,103.5,-0.02,104.5,0.08,105.5,0.14,106.5,0.05,107.5,0.11,108.5,0.0,109.5,0.15,110.5,0.06,111.5,-0.06,112.5,0.12,113.5,0.19,114.5,0.03,115.5,0.09,116.5,0.13,117.5,-0.01,118.5,0.07,119.5,0.16,120.5,0.04,121.5,0.1,122.5,0.21,123.5,0.0,124.5,0.08,125.5,0.12,126.5,-0.04,127.5,0.1,128.5,0.17,129.5,0.05,130.5,0.02,131.5,0.13,132.5,-0.07,133.5,0.09,134.5,0.14,135.5,0.03,136.5,0.2,137.5,0.07,138.5,0.11,139.5,-0.02,140.5,0.15,141.5,0.05,142.5,0.12,143.5,0.0,
 144,0.35,145,0.22,146,0.42,147,0.28,148,0.33,149,0.18,150,0.3,151,0.4,152,0.25,153,0.12,154,0.36,155,0.29,156,0.21,157,0.44,158,0.31,159,0.26,160,0.38,161,0.15,162,0.33,163,0.27,164,0.41,165,0.23,166,0.3,167,0.36,168,0.06,169,0.28,170,0.39,171,0.24,172,0.32,173,0.43,174,0.2,175,0.34,176,0.27,177,0.37,178,0.16,179,0.31,180,0.4,181,0.25,182,0.35,183,0.29,184,0.44,185,0.22,186,0.33,187,0.38,188,0.13,189,0.3,190,0.41,191,0.26,
 144.5,0.27,145.5,0.38,146.5,0.2,147.5,0.33,148.5,0.24,149.5,0.4,150.5,0.16,151.5,0.31,152.5,0.36,153.5,0.26,154.5,0.19,155.5,0.42,156.5,0.3,157.5,0.23,158.5,0.35,159.5,0.28,160.5,0.21,161.5,0.39,162.5,0.25,163.5,0.32,164.5,0.18,165.5,0.34,166.5,0.27,167.5,0.41,168.5,0.22,169.5,0.35,170.5,0.29,171.5,0.17,172.5,0.37,173.5,0.26,174.5,0.31,175.5,0.23,176.5,0.4,177.5,0.28,178.5,0.34,179.5,0.21,180.5,0.3,181.5,0.43,182.5,0.24,183.5,0.33,184.5,0.27,185.5,0.38,186.5,0.2,187.5,0.31,188.5,0.36,189.5,0.25,190.5,0.33];
const chr4LogROut = [3.8,-0.6,10.7,-0.6,12.3,-0.6,144.7,0.6,148.6,0.6,153.2,0.6,177,0.6,183.9,0.6];

const chr4BafPts = [1,0.72,2,0.7,3,0.69,5,0.71,6,0.73,7,0.68,9,0.73,10,0.68,11,0.7,12,0.6,13,0.67,14,0.71,15,0.72,17,0.69,18,0.7,19,0.71,21,0.7,22,0.72,23,0.68,25,0.72,26,0.69,27,0.7,29,0.74,
 2,0.26,3,0.3,4,0.29,6,0.31,7,0.28,8,0.27,10,0.37,11,0.31,12.5,0.3,14,0.25,15,0.27,16,0.32,18,0.29,19,0.3,20,0.23,22,0.33,23,0.29,24,0.28,26,0.24,27,0.32,28,0.31,29.5,0.27,
 31,0.53,32,0.47,33,0.58,34,0.5,35,0.45,36,0.52,37,0.55,38,0.48,39,0.44,40,0.51,41,0.47,42,0.41,43,0.53,44,0.49,45,0.46,46,0.54,47,0.5,48,0.45,49,0.52,
 53,0.52,54,0.47,55,0.54,56,0.5,57,0.49,58,0.25,59,0.51,60,0.46,61,0.53,62,0.53,63,0.48,64,0.5,65,0.48,66,0.51,67,0.55,68,0.47,69,0.47,70,0.52,71,0.53,72,0.49,73,0.44,74,0.5,75,0.51,76,0.52,77,0.54,78,0.48,79,0.49,80,0.5,81,0.54,82,0.46,83,0.53,84,0.48,85,0.49,86,0.51,87,0.56,88,0.5,89,0.53,90,0.47,91,0.49,92,0.52,93,0.49,94,0.5,95,0.54,96,0.52,97,0.48,98,0.51,99,0.47,100,0.47,101,0.54,102,0.53,103,0.5,104,0.49,105,0.55,106,0.52,107,0.48,108,0.51,109,0.5,110,0.46,111,0.48,112,0.53,113,0.5,114,0.54,115,0.52,116,0.5,117,0.48,118,0.75,119,0.51,120,0.52,121,0.47,122,0.49,123,0.54,124,0.49,125,0.53,126,0.52,127,0.5,128,0.48,129,0.5,130,0.48,131,0.53,132,0.52,133,0.47,134,0.51,135,0.5,136,0.49,137,0.47,138,0.54,139,0.46,140,0.53,141,0.52,142,0.49,143,0.45,
 145,0.64,146,0.62,147,0.6,149,0.63,150,0.65,151,0.61,153,0.66,154,0.61,155,0.59,156,0.69,157,0.62,158,0.63,159,0.65,161,0.6,162,0.6,163,0.63,165,0.58,166,0.64,167,0.62,169,0.61,170,0.62,171,0.64,173,0.6,174,0.59,175,0.63,177,0.59,178,0.63,179,0.62,181,0.65,182,0.6,183,0.61,185,0.6,186,0.62,187,0.64,189,0.62,190,0.61,191,0.66,
 144,0.36,146,0.38,147,0.37,148,0.4,150,0.35,151,0.39,152,0.39,154,0.37,155,0.36,156,0.41,158,0.36,159,0.4,160,0.38,162,0.34,163,0.37,164,0.39,166,0.37,167,0.35,168,0.33,170,0.4,171,0.38,172,0.36,174,0.38,175,0.36,176,0.42,178,0.35,179,0.39,180,0.3,182,0.37,183,0.37,184,0.39,186,0.36,187,0.35,188,0.41,190,0.37,191,0.38];

// cytoband boundaries (Mb) and stains (0 gneg, 25/50/75/100 gpos, -1 acen, -2 gvar)
const chr1Bounds = [0,2.3,5.4,7.2,9.2,12.7,16.2,20.4,23.9,28.0,30.2,32.4,34.6,40.1,44.1,46.8,50.7,56.1,59.0,61.3,68.9,69.7,84.9,88.4,92.0,94.7,99.7,102.2,107.2,111.8,116.1,117.8,120.6,121.5,125.0,128.9,142.6,147.0,150.3,155.0,156.5,159.1,160.5,165.5,167.2,170.9,172.9,176.0,180.3,185.8,190.8,193.8,198.7,207.2,211.5,214.5,224.1,224.6,227.0,230.7,234.7,236.6,243.7,249.25];
const chr1Stains = [0,25,0,25,0,50,0,25,0,25,0,25,0,25,0,75,0,50,0,50,0,100,0,75,0,75,0,100,0,50,0,50,0,-1,-1,-2,0,50,0,50,0,50,0,50,0,75,0,50,0,100,0,100,0,25,0,100,0,25,0,50,0,75,0];
const chr2Bounds = [0,4.4,7.1,12.2,16.7,19.2,24.0,27.9,30.0,32.1,36.6,38.6,41.8,47.8,52.9,55.0,61.3,64.1,68.6,71.5,73.5,75.0,83.3,90.5,93.3,96.8,102.7,106.0,107.5,110.2,114.4,118.8,122.4,129.9,132.5,135.1,136.8,142.2,144.1,148.7,149.9,150.5,154.9,159.8,163.7,169.7,178.0,180.6,183.0,189.4,191.9,197.4,203.3,204.9,209.0,215.3,221.5,225.2,226.1,231.0,235.6,237.3,243.2];
const chr2Stains = [0,50,0,75,0,75,0,25,0,75,0,50,0,100,0,100,0,50,0,50,0,100,0,-1,-1,0,50,0,25,0,50,0,50,0,25,0,100,0,100,0,25,0,75,0,75,0,50,0,75,0,75,0,50,0,100,0,75,0,100,0,50,0];
const chr3Bounds = [0,2.8,4.0,8.7,11.8,13.3,16.4,23.9,26.4,30.9,32.1,36.5,39.4,43.7,44.1,44.2,50.6,52.3,54.4,58.6,63.7,69.8,74.2,79.8,83.5,87.2,87.9,91.0,93.9,98.3,100.0,100.9,102.8,106.2,107.9,111.3,113.5,117.3,119.0,121.9,123.8,125.8,129.2,133.7,135.7,137.4,140.4,148.9,152.3,155.3,159.5,166.0,171.3,176.5,180.5,184.5,185.5,186.5,189.0,193.0,198.0];
const chr3Stains = [50,0,50,0,25,0,100,0,75,0,50,0,75,0,50,0,25,0,50,0,50,0,75,0,75,0,-1,-1,-2,0,25,0,75,0,50,0,75,0,75,0,25,0,25,0,25,0,100,0,50,0,100,0,75,0,75,0,25,0,75,0];
const chr4Bounds = [0,4.5,6.0,11.3,15.2,17.8,21.3,27.7,35.8,41.2,44.6,48.2,50.4,52.7,59.5,66.6,70.5,76.3,78.9,82.4,84.1,86.9,88.0,93.7,95.1,98.8,101.1,107.7,114.1,120.8,123.8,128.8,131.1,139.5,141.5,146.8,148.5,151.1,155.6,161.8,164.5,170.1,171.9,176.3,177.5,183.2,187.1,191.2];
const chr4Stains = [0,25,0,50,0,75,0,100,0,50,0,-1,-1,0,100,0,75,0,50,0,25,0,75,0,75,0,50,0,75,0,50,0,100,0,25,0,25,0,100,0,100,0,75,0,100,0,25];

// ---------------- LAYOUT (pixels) ----------------
const colLeft = [0, 700, 0, 700];
const rowTop = [0, 0, 414, 414];
const PAD = 24;

Chart.defaults.font.family = 'DejaVu Sans';

function pairs(a){const o=[];for(let i=0;i<a.length;i+=2)o.push({x:a[i],y:a[i+1]});return o;}
function clampPairs(a,lo,hi){return pairs(a).map(p=>({x:p.x,y:Math.min(hi,Math.max(lo,p.y))}));}
function stepLine(segs){const o=[];let pe=null;for(const [s,e,v] of segs){if(pe!==null&&Math.abs(s-pe)>1e-6)o.push({x:s,y:null});o.push({x:s,y:v},{x:e,y:v});pe=e;}return o;}
function bafLines(segs){const o=[];for(const sg of segs){const [s,e,hi,lo]=sg;o.push({x:s,y:hi},{x:e,y:hi},{x:e,y:null});if(lo!==undefined){o.push({x:s,y:lo},{x:e,y:lo},{x:e,y:null});}}return o;}

function makeCanvas(left, top, w, h){
  const c=document.createElement('canvas');
  c.width=w;c.height=h;c.style.left=left+'px';c.style.top=top+'px';c.style.width=w+'px';c.style.height=h+'px';
  document.body.appendChild(c);return c;
}
const framePlugin={id:'frame',afterDraw(chart){const {ctx,chartArea:a}=chart;ctx.save();ctx.strokeStyle='#000';ctx.lineWidth=2;ctx.strokeRect(a.left,a.top,a.right-a.left,a.bottom-a.top);ctx.restore();}};

function panel(left, boxTop, boxH, L, range, ticks, label, ref, red, pts, outs){
  const c=makeCanvas(left, boxTop-PAD, 680, boxH+2*PAD);
  new Chart(c,{type:'line',
    data:{datasets:[
      {data:red,borderColor:'#FF0000',borderWidth:6.5,borderCapStyle:'round',borderJoinStyle:'round',pointRadius:0,spanGaps:false,order:0,clip:0},
      {data:[{x:0,y:ref},{x:L,y:ref}],borderColor:'#AAAAAA',borderWidth:3,borderDash:[18,11],pointRadius:0,order:1,clip:0},
      {data:pts,showLine:false,pointStyle:'rect',pointRadius:2.85,pointBackgroundColor:'#BEBEBE',pointBorderWidth:0,order:2,clip:0},
      {data:outs,showLine:false,pointStyle:'star',pointRadius:7,pointBorderColor:'#B4B4B4',pointBackgroundColor:'#B4B4B4',pointBorderWidth:1.5,order:3,clip:0}
    ]},
    options:{responsive:false,animation:false,devicePixelRatio:1,events:[],
      layout:{padding:{left:0,right:17,top:PAD,bottom:PAD}},
      plugins:{legend:{display:false},tooltip:{enabled:false}},
      scales:{
        x:{type:'linear',min:0,max:L,display:false},
        y:{type:'linear',min:range[0],max:range[1],
          afterFit:s=>{s.width=109;},
          afterBuildTicks:s=>{s.ticks=ticks.map(v=>({value:v}));},
          ticks:{callback:v=>Number(v).toFixed(1),font:{family:'DejaVu Sans',size:23},color:'#000',padding:8,autoSkip:false},
          grid:{drawOnChartArea:false,drawTicks:true,tickLength:11,color:'#000',lineWidth:1.8},
          border:{display:false},
          title:{display:true,text:label,font:{family:'DejaVu Sans',size:25},color:'#000',padding:{top:3,bottom:0}}
        }
      }
    },
    plugins:[framePlugin]
  });
}

// gvar hatch pattern
const pc=document.createElement('canvas');pc.width=16;pc.height=16;
(function(){const p=pc.getContext('2d');p.fillStyle='#fff';p.fillRect(0,0,16,16);p.strokeStyle='#C4C4C4';p.lineWidth=1.4;p.beginPath();p.moveTo(0,16);p.lineTo(16,0);p.moveTo(-2,2);p.lineTo(2,-2);p.moveTo(14,18);p.lineTo(18,14);p.stroke();})();

function stainColor(ctx,s){
  if(s===-1)return '#FFFF00';
  if(s===-2)return ctx.createPattern(pc,'repeat');
  return {0:'#FFFFFF',25:'#C0C0C0',50:'#808080',75:'#404040',100:'#000000'}[s];
}

const IDEO_R = 10;   // telomere rounding
const CEN_R = 4;     // centromere rounding
const ideoClip={id:'ideoClip',
  beforeDatasetsDraw(chart,args,opts){
    const {ctx,chartArea:a,scales:{x}}=chart;
    const x0=x.getPixelForValue(0),xc=x.getPixelForValue(opts.cen),x1=x.getPixelForValue(opts.L);
    const h=a.bottom-a.top;
    ctx.save();ctx.beginPath();
    ctx.roundRect(x0,a.top,xc-x0,h,[IDEO_R,CEN_R,CEN_R,IDEO_R]);
    ctx.roundRect(xc,a.top,x1-xc,h,[CEN_R,IDEO_R,IDEO_R,CEN_R]);
    ctx.clip();
  },
  afterDatasetsDraw(chart){chart.ctx.restore();}
};

function ideogram(left, top, L, bounds, stains){
  const c=makeCanvas(left, top-4, 680, 30);
  const ctx=c.getContext('2d');
  let cen=L/2;
  for(let i=0;i<stains.length-1;i++){if(stains[i]===-1&&stains[i+1]===-1)cen=bounds[i+1];}
  const ds=stains.map((st,i)=>({data:[[bounds[i],bounds[i+1]]],backgroundColor:stainColor(ctx,st),borderColor:'#111',
      borderWidth:st===-1?{top:0,bottom:0,left:0,right:0}:{top:0,bottom:0,left:0.8,right:0.8},borderSkipped:false,borderRadius:0,
      grouped:false,barPercentage:1,categoryPercentage:1,order:1}));
  const common={backgroundColor:'rgba(0,0,0,0)',borderColor:'#000',borderWidth:1.6,borderSkipped:false,grouped:false,barPercentage:1,categoryPercentage:1,order:-1};
  ds.push(Object.assign({data:[[0,cen]],borderRadius:{topLeft:IDEO_R,bottomLeft:IDEO_R,topRight:CEN_R,bottomRight:CEN_R}},common));
  ds.push(Object.assign({data:[[cen,L]],borderRadius:{topLeft:CEN_R,bottomLeft:CEN_R,topRight:IDEO_R,bottomRight:IDEO_R}},common));
  new Chart(c,{type:'bar',data:{labels:['band'],datasets:ds},
    options:{indexAxis:'y',responsive:false,animation:false,devicePixelRatio:1,events:[],
      layout:{padding:{left:109,right:17,top:4,bottom:4}},
      plugins:{legend:{display:false},tooltip:{enabled:false},ideoClip:{cen:cen,L:L}},
      scales:{x:{type:'linear',min:0,max:L,display:false},y:{display:false}}},
    plugins:[ideoClip]});
}

const logRSegs=[chr1LogRSeg,chr2LogRSeg,chr3LogRSeg,chr4LogRSeg];
const bafSegs=[chr1BafSeg,chr2BafSeg,chr3BafSeg,chr4BafSeg];
const logRPts=[chr1LogRPts,chr2LogRPts,chr3LogRPts,chr4LogRPts];
const logROut=[chr1LogROut,chr2LogROut,chr3LogROut,chr4LogROut];
const bafPts=[chr1BafPts,chr2BafPts,chr3BafPts,chr4BafPts];
const bounds=[chr1Bounds,chr2Bounds,chr3Bounds,chr4Bounds];
const stains=[chr1Stains,chr2Stains,chr3Stains,chr4Stains];

for(let k=0;k<4;k++){
  const L=chromLengths[k], left=colLeft[k], dy=rowTop[k];
  panel(left,129+dy,118,L,logRRange,logRTicks,'logR',0,stepLine(logRSegs[k]),pairs(logRPts[k]),clampPairs(logROut[k],logROutClamp[0],logROutClamp[1]));
  panel(left,269+dy,146,L,bafRange,bafTicks,'BAF',0.5,bafLines(bafSegs[k]),pairs(bafPts[k]),[]);
  ideogram(left,422+dy,L,bounds[k],stains[k]);
}
</script>
</body></html>
